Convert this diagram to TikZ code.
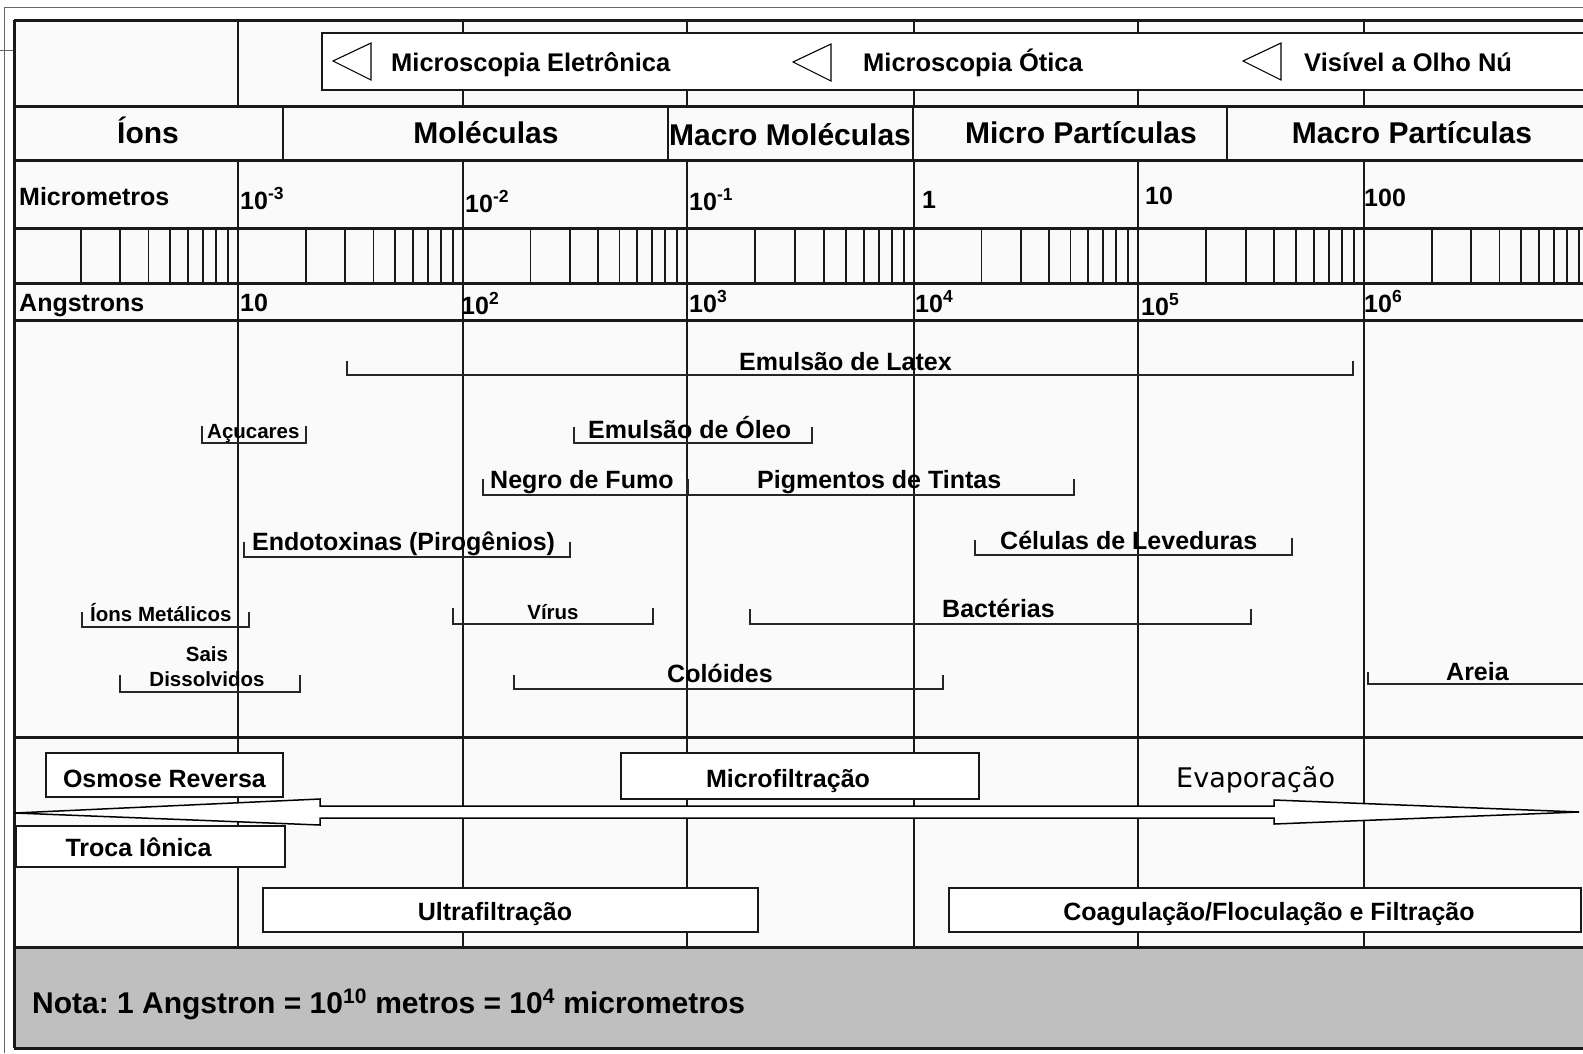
\documentclass[tikz,border=0pt]{standalone}
\usepackage{fontspec}
\setmainfont{Liberation Sans}
\newfontfamily\evapfont{DejaVu Sans}
\frenchspacing
\begin{document}
\begin{tikzpicture}[x=1pt,y=-1pt,
  rowline/.style={line width=3pt, draw=black!90},
  colline/.style={line width=2pt, draw=black!90},
  tickline/.style={line width=1.8pt, draw=black!90},
  brk/.style={line width=2.5pt, draw=black!85},
  pbox/.style={draw=black!90, line width=2.5pt, fill=white},
  tri/.style={draw=black, line width=1.1pt, fill=white},
  lbl/.style={inner sep=0pt, font=\bfseries\fontsize{25}{30}\selectfont},
  slbl/.style={inner sep=0pt, font=\bfseries\fontsize{20.5}{26}\selectfont},
  big/.style={inner sep=0pt, font=\bfseries\fontsize{30}{36}\selectfont},
  hdr/.style={inner sep=0pt, font=\bfseries\fontsize{25.5}{30}\selectfont},
]
\useasboundingbox (0,0) rectangle (1583,1053);
\fill[white] (0,0) rectangle (1583,1053);
\fill[black!2] (14,20) rectangle (1590,947);
% gray note band
\fill[black!25] (14,947) rectangle (1590,1048);

% decade lines
\foreach \x in {238,463,687,914,1138,1364}{
  \draw[colline] (\x,20) -- (\x,106);
  \draw[colline] (\x,160) -- (\x,947);
}
% category dividers
\foreach \x in {283,668,913,1227}{
  \draw[colline] (\x,106) -- (\x,160);
}
% log ticks
\foreach \d/\w in {13/225,238/225,463/224,687/227,914/224,1138/226,1364/225}{
  \foreach \k in {2,...,9}{
    \pgfmathsetmacro\tx{\d+\w*ln(\k)/ln(10)}
    \draw[tickline] (\tx,228) -- (\tx,283);
  }
}
% row lines
\foreach \y in {20,106,160,228,283,320,737,947,1048}{
  \draw[rowline] (14,\y) -- (1590,\y);
}
\draw[rowline] (14,20) -- (14,1048);

% microscopy band
\draw[pbox] (322,33) rectangle (1595,90);
\draw[tri] (333,61) -- (371,43) -- (371,80) -- cycle;
\draw[tri] (793,62) -- (831,44) -- (831,81) -- cycle;
\draw[tri] (1243,61) -- (1281,43) -- (1281,80) -- cycle;
\node[hdr, anchor=base west] (me) at (391,71) {Microscopia Eletrônica};
\node[hdr, anchor=base west] (mo) at (863,71) {Microscopia Ótica};
\node[hdr, anchor=base west] (vo) at (1304,71) {Visível a Olho Nú};

% categories
\node[big, anchor=base] (ions) at (148,143) {Íons};
\node[big, anchor=base] (mol) at (486,143) {Moléculas};
\node[big, anchor=base west] (mmol) at (669,145) {Macro Moléculas};
\node[big, anchor=base] (mip) at (1081,143) {Micro Partículas};
\node[big, anchor=base] (map) at (1412,143) {Macro Partículas};

% scales
\node[lbl, anchor=base west] (micro) at (19,205) {Micrometros};
\node[lbl, anchor=base west] (u1) at (240,209) {10\textsuperscript{-3}};
\node[lbl, anchor=base west] (u2) at (465,212) {10\textsuperscript{-2}};
\node[lbl, anchor=base west] (u3) at (689,210) {10\textsuperscript{-1}};
\node[lbl, anchor=base west] (u4) at (922,208) {1};
\node[lbl, anchor=base west] (u5) at (1145,204) {10};
\node[lbl, anchor=base west] (u6) at (1364,206) {100};

\node[lbl, anchor=base west] (ang) at (19,311) {Angstrons};
\node[lbl, anchor=base west] (a1) at (240,311) {10};
\node[lbl, anchor=base west] (a2) at (461,314) {10\textsuperscript{2}};
\node[lbl, anchor=base west] (a3) at (689,312) {10\textsuperscript{3}};
\node[lbl, anchor=base west] (a4) at (915,312) {10\textsuperscript{4}};
\node[lbl, anchor=base west] (a5) at (1141,315) {10\textsuperscript{5}};
\node[lbl, anchor=base west] (a6) at (1364,312) {10\textsuperscript{6}};

% particle ranges
\draw[brk] (347,361) -- (347,375) -- (1353,375) -- (1353,361);
\node[lbl, anchor=base west] (latex) at (739,370) {Emulsão de Latex};

\draw[brk] (202,426) -- (202,443) -- (306,443) -- (306,426);
\node[slbl, anchor=base west] (acu) at (207,438) {Açucares};

\draw[brk] (574,427) -- (574,443) -- (812,443) -- (812,427);
\node[lbl, anchor=base west] (oleo) at (588,438) {Emulsão de Óleo};

\draw[brk] (483,479) -- (483,495) -- (1074,495) -- (1074,479);
\draw[line width=3pt, draw=black!85] (687,479) -- (687,495);
\node[lbl, anchor=base west] (negro) at (490,488) {Negro de Fumo};
\node[lbl, anchor=base west] (pig) at (757,488) {Pigmentos de Tintas};

\draw[brk] (244,542) -- (244,557) -- (570,557) -- (570,542);
\node[lbl, anchor=base west] (endo) at (252,550) {Endotoxinas (Pirogênios)};

\draw[brk] (975,540) -- (975,555) -- (1292,555) -- (1292,538);
\node[lbl, anchor=base west] (lev) at (1000,549) {Células de Leveduras};

\draw[brk] (82,612) -- (82,627) -- (249,627) -- (249,612);
\node[slbl, anchor=base west] (ionm) at (90,621) {Íons Metálicos};

\draw[brk] (453,608) -- (453,624) -- (653,624) -- (653,608);
\node[slbl, anchor=base] (virus) at (553,619) {Vírus};

\draw[brk] (750,609) -- (750,624) -- (1251,624) -- (1251,609);
\node[lbl, anchor=base west] (bac) at (942,617) {Bactérias};

\draw[brk] (120,675) -- (120,692) -- (300,692) -- (300,675);
\node[slbl, anchor=north, align=center] (sais) at (207,646) {Sais\\[-1pt]Dissolvidos};

\draw[brk] (514,675) -- (514,689) -- (943,689) -- (943,675);
\node[lbl, anchor=base west] (col) at (667,682) {Colóides};

\draw[brk] (1368,672) -- (1368,684) -- (1590,684);
\node[lbl, anchor=base west] (areia) at (1446,680) {Areia};

% processes
\draw[line width=1.5pt, draw=black, fill=white]
  (15,813) -- (320,799) -- (320,806) -- (1274,806) -- (1274,800) -- (1579,812)
  -- (1274,824) -- (1274,818) -- (320,818) -- (320,825) -- cycle;

\node[pbox, minimum width=237pt, minimum height=44pt] (osmb) at (164.5,775) {};
\node[lbl, anchor=base] (osm) at (164.5,787) {Osmose Reversa};

\node[pbox, minimum width=269pt, minimum height=41pt] (trob) at (150.5,846.5) {};
\node[lbl, anchor=base] (tro) at (138.5,856) {Troca Iônica};

\node[pbox, minimum width=358pt, minimum height=46pt] (mfb) at (800,776) {};
\node[lbl, anchor=base] (mf) at (788,787) {Microfiltração};

\node[inner sep=0pt, anchor=base west, font=\evapfont\fontsize{27}{32}\selectfont] (evap) at (1176,787) {Evaporação};

\node[pbox, minimum width=495pt, minimum height=44pt] (ufb) at (510.5,910) {};
\node[lbl, anchor=base] (uf) at (495,920) {Ultrafiltração};

\node[pbox, minimum width=632pt, minimum height=44pt] (cfb) at (1265,910) {};
\node[lbl, anchor=base] (cf) at (1269,920) {Coagulação/Floculação e Filtração};

% note
\node[big, anchor=base west] (nota) at (32,1013) {Nota: 1 Angstron = 10\textsuperscript{10} metros = 10\textsuperscript{4} micrometros};

% outer thin frame
\draw[line width=1pt, draw=black!60] (4,1053) -- (4,7) -- (1583,7);
\draw[line width=1pt, draw=black!60] (0,50) -- (13,50);
\end{tikzpicture}
\end{document}
